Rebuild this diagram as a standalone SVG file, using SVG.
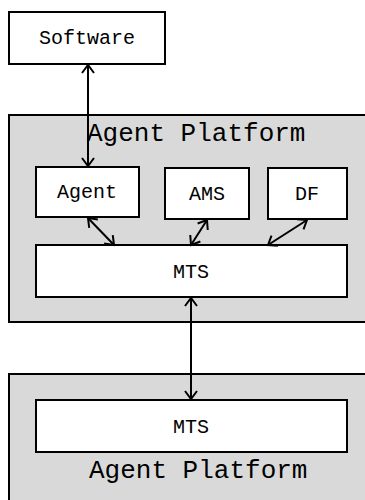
<svg xmlns="http://www.w3.org/2000/svg" width="365" height="500" viewBox="0 0 365 500">
  <style>
    .platform { fill: #d9d9d9; stroke: #000; stroke-width: 2; }
    .box { fill: #fff; stroke: #000; stroke-width: 2; }
    .label { font-family: "Liberation Mono", "Courier New", monospace; font-size: 20px; fill: #000; text-anchor: middle; }
    .title { font-family: "Liberation Mono", "Courier New", monospace; font-size: 26px; fill: #000; }
    .link { stroke: #000; stroke-width: 2; fill: none; marker-start: url(#head); marker-end: url(#head); }
  </style>
  <defs>
    <marker id="head" markerUnits="userSpaceOnUse" viewBox="-10 -7 12 14" markerWidth="12" markerHeight="14" refX="0" refY="0" orient="auto-start-reverse">
      <path d="M-8,-6 L0,0 L-8,6" fill="none" stroke="#000" stroke-width="2"/>
    </marker>
  </defs>

  <g id="software">
    <rect class="box" x="9" y="12" width="156" height="52"/>
    <text class="label" x="87" y="44">Software</text>
  </g>

  <g id="platform-1">
    <rect class="platform" x="9" y="115" width="370" height="207"/>
    <text class="title" x="87" y="141">Agent Platform</text>
  </g>

  <g id="agent">
    <rect class="box" x="36" y="167" width="103" height="50"/>
    <text class="label" x="87" y="198">Agent</text>
  </g>

  <g id="ams">
    <rect class="box" x="165" y="168" width="84" height="51"/>
    <text class="label" x="207" y="200">AMS</text>
  </g>

  <g id="df">
    <rect class="box" x="268" y="168" width="79" height="51"/>
    <text class="label" x="307" y="200">DF</text>
  </g>

  <g id="mts-1">
    <rect class="box" x="36" y="245" width="311" height="52"/>
    <text class="label" x="191" y="278">MTS</text>
  </g>

  <g id="platform-2">
    <rect class="platform" x="9" y="374" width="370" height="140"/>
    <text class="title" x="89" y="478">Agent Platform</text>
  </g>

  <g id="mts-2">
    <rect class="box" x="36" y="400" width="311" height="52"/>
    <text class="label" x="191" y="433">MTS</text>
  </g>

  <g id="connectors">
    <line class="link" x1="88" y1="65" x2="88" y2="166"/>
    <line class="link" x1="88" y1="218" x2="114" y2="245"/>
    <line class="link" x1="207" y1="220" x2="191" y2="245"/>
    <line class="link" x1="307" y1="220" x2="268" y2="245"/>
    <line class="link" x1="191" y1="298" x2="191" y2="399"/>
  </g>
</svg>
